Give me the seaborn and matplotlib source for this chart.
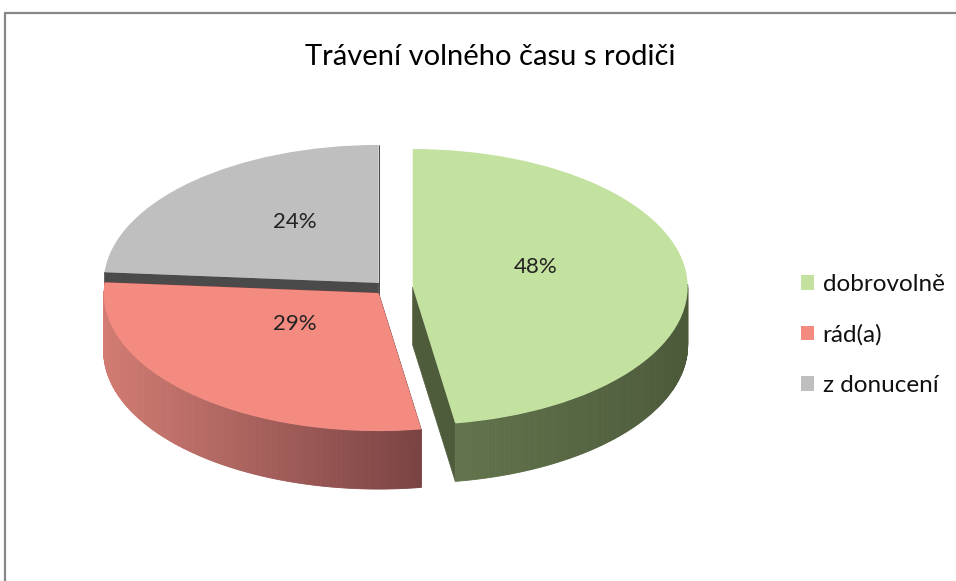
import numpy as np
import matplotlib
matplotlib.use("Agg")
import matplotlib.pyplot as plt
import seaborn as sns
from matplotlib.patches import Polygon, Patch
from matplotlib.lines import Line2D
from matplotlib.colors import to_rgb
from matplotlib.transforms import ScaledTranslation

# ---- data ----
title = "Trávení volného času s rodiči"
categories = ["dobrovolně", "rád(a)", "z donucení"]
values = [48, 29, 24]
top_colors = ["#c3e19f", "#f48b80", "#bfbfbf"]
side_left = ["#62744c", "#d27c73", "#4a4a4a"]
side_right = ["#4c5a3a", "#7a4343", "#4a4a4a"]
face_colors = ["#4e5c3c", "#7a4343", "#4a4a4a"]
explode = [0.09, 0.05, 0.05]

sns.set_theme(style="white")
plt.rcParams["font.family"] = ["Lato", "DejaVu Sans"]

W, H = 956, 581
fig = plt.figure(figsize=(W / 100, H / 100), dpi=100)
fig.patch.set_facecolor("white")

# axes in pixel layout
ax_l, ax_r, ax_t, ax_b = 40, 760, 100, 540
ax = fig.add_axes([ax_l / W, 1 - ax_b / H, (ax_r - ax_l) / W, (ax_b - ax_t) / H])

cx_px, cy_px = 388, 288   # pie centre in pixels
a_px, b_px = 275, 138     # semi-axes in pixels
depth = 58 / b_px         # thickness in data units

wedges, texts, autotexts = ax.pie(
    values, startangle=90, counterclock=False, colors=top_colors,
    explode=explode, autopct="%1.0f%%", pctdistance=0.45,
    wedgeprops=dict(linewidth=0),
    textprops=dict(fontsize=16, color="#222222"))

ax.set_aspect("auto")
ax.set_xlim((ax_l - cx_px) / a_px, (ax_r - cx_px) / a_px)
ax.set_ylim((cy_px - ax_b) / b_px, (cy_px - ax_t) / b_px)
ax.axis("off")

# drawing order: back to front -> gray, green, red
order = [2, 0, 1]
for rank, i in enumerate(order):
    w = wedges[i]
    cx, cy = w.center
    r = w.r
    t1, t2 = np.radians(w.theta1), np.radians(w.theta2)
    zb = 2 + rank * 3
    w.set_zorder(zb + 2)
    # radial cut faces
    for t in (t1, t2):
        px, py = cx + r * np.cos(t), cy + r * np.sin(t)
        quad = [(cx, cy), (px, py), (px, py - depth), (cx, cy - depth)]
        ax.add_patch(Polygon(quad, closed=True, facecolor=face_colors[i],
                             edgecolor=face_colors[i], linewidth=0.5, zorder=zb))
    # curved outer side (front-facing only)
    ts = np.linspace(t1, t2, max(int(np.degrees(t2 - t1)) * 2, 4))
    xs_vis = [cx + r * np.cos(t) for t in ts if np.sin(t) < 0]
    if xs_vis:
        xmin, xmax = min(xs_vis), max(xs_vis)
        cl, cr = np.array(to_rgb(side_left[i])), np.array(to_rgb(side_right[i]))
        for ta, tb in zip(ts[:-1], ts[1:]):
            tm = 0.5 * (ta + tb)
            if np.sin(tm) >= 0.02:
                continue
            xa, ya = cx + r * np.cos(ta), cy + r * np.sin(ta)
            xb, yb = cx + r * np.cos(tb), cy + r * np.sin(tb)
            xm = cx + r * np.cos(tm)
            f = 0 if xmax == xmin else (xm - xmin) / (xmax - xmin)
            col = cl + (cr - cl) * f
            ax.add_patch(Polygon([(xa, ya), (xb, yb), (xb, yb - depth), (xa, ya - depth)],
                                 closed=True, facecolor=col, edgecolor=col,
                                 linewidth=0.6, zorder=zb + 1))

# percentage labels sit slightly higher on the tilted top face
lift = ScaledTranslation(0, 15 / 100, fig.dpi_scale_trans)
for t in autotexts:
    t.set_zorder(30)
    t.set_transform(ax.transData + lift)

# title
fig.text(490 / W, 1 - 57 / H, title, ha="center", va="center",
         fontsize=21, color="#000000")

# legend
handles = [Patch(facecolor=c, edgecolor="none") for c in top_colors]
fig.legend(handles, categories, loc="center left",
           bbox_to_anchor=(779 / W, 1 - 335 / H), frameon=False,
           fontsize=17.5, handlelength=0.55, handleheight=0.55,
           handletextpad=0.35, labelspacing=1.2,
           labelcolor="#111111")

# chart frame (top and left edges visible)
fig.add_artist(Line2D([5 / W, 1], [1 - 13 / H, 1 - 13 / H], color="#878787",
                      linewidth=1.6, transform=fig.transFigure))
fig.add_artist(Line2D([5 / W, 5 / W], [0, 1 - 13 / H], color="#878787",
                      linewidth=1.6, transform=fig.transFigure))

fig.savefig("out.png", dpi=100)
